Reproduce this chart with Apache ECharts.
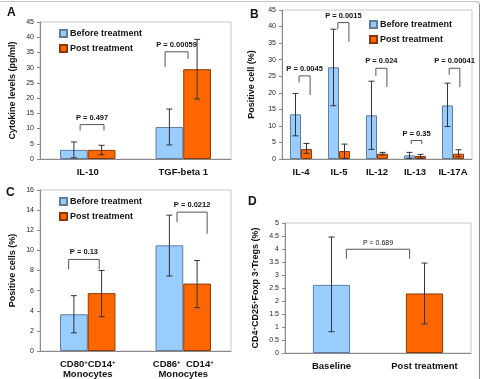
<!DOCTYPE html>
<html>
<head>
<meta charset="utf-8">
<script src="https://cdn.jsdelivr.net/npm/echarts@6/dist/echarts.min.js"></script>
<style>
html, body { margin: 0; padding: 0; background: #fff; }
#main { width: 483px; height: 379px; }
</style>
</head>
<body>
<div id="main"></div>
<script>
// ---- data ----
var catA = ['IL-10', 'TGF-beta 1'];
var beforeA = [3.0, 10.5];
var postA = [3.0, 29.5];
var errBeforeA = [[0, 0.4, 5.6], [1, 4.6, 16.4]];
var errPostA = [[0, 1.4, 4.5], [1, 19.7, 39.3]];
var pTextA = ['P = 0.497', 'P = 0.00059'];
// [category, left offset, right offset, top, left leg end, right leg end]
var bracketA = [[0, -0.08, 0.17, 11.3, 9.3, 9.3], [1, -0.19, 0.05, 35.2, 30.3, 32.9]];

var catB = ['IL-4', 'IL-5', 'IL-12', 'IL-13', 'IL-17A'];
var beforeB = [13.5, 27.7, 13.2, 1.1, 16.2];
var postB = [3.0, 2.4, 1.6, 0.9, 1.6];
var errBeforeB = [[0, 7.0, 19.8], [1, 16.1, 39.2], [2, 2.9, 23.5], [3, 0.2, 2.0], [4, 9.8, 22.9]];
var errPostB = [[0, 1.7, 4.7], [1, 0.2, 4.5], [2, 1.2, 2.0], [3, 0.3, 1.4], [4, 0.7, 2.8]];
var pTextB = ['P = 0.0045', 'P = 0.0015', 'P = 0.024', 'P = 0.35', 'P = 0.00041'];
var bracketB = [
  [0, -0.05, 0.24, 25.1, 23.1, 19.3],
  [1, -0.03, 0.26, 41.2, 39.2, 35.4],
  [2, -0.03, 0.26, 27.4, 25.1, 21.7],
  [3, -0.10, 0.18, 5.6, 4.5, 4.5],
  [4, -0.10, 0.18, 27.4, 25.4, 21.7]
];

var catC = ['CD80{s|+}CD14{s|+}\nMonocytes', 'CD86{s|+}  CD14{s|+}\nMonocytes'];
var beforeC = [3.65, 10.5];
var postC = [5.75, 6.7];
var errBeforeC = [[0, 1.8, 5.5], [1, 7.45, 13.5]];
var errPostC = [[0, 3.4, 8.0], [1, 4.3, 9.0]];
var pTextC = ['P = 0.13', 'P = 0.0212'];
var bracketC = [[0, -0.2, 0.12, 9.1, 8.1, 8.1], [1, -0.065, 0.25, 13.8, 12.8, 11.65]];

var catD = ['Baseline', 'Post treatment'];
var valD = [2.62, 2.29];
var errD = [[0, 0.82, 4.46], [1, 1.12, 3.46]];
var pTextD = ['P = 0.689'];
var bracketD = [[0, 0.16, 0.84, 3.99, 3.63, 3.63]];

// ---- styles ----
var FONT = 'Liberation Sans, Arial, sans-serif';
var BLUE = {color: '#99CCFF', borderColor: '#5F7D9C', borderWidth: 1};
var ORANGE = {color: '#FF6600', borderColor: '#8A3A08', borderWidth: 1};
var BAR_HALF = 0.145; // half a bar, as a fraction of the band

function xAxis(i, data) {
  return {
    type: 'category', gridIndex: i, data: data,
    axisLine: {lineStyle: {color: '#8a8a8a'}},
    axisTick: {length: 3, lineStyle: {color: '#8a8a8a'}},
    axisLabel: {
      interval: 0, hideOverlap: false,
      fontFamily: FONT, fontWeight: 'bold', fontSize: 9.5, color: '#111', margin: 8, lineHeight: 10,
      rich: {s: {fontFamily: FONT, fontWeight: 'bold', fontSize: 6, verticalAlign: 'top', lineHeight: 10}}
    }
  };
}

function yAxis(i, max, interval, name, gap) {
  return {
    type: 'value', gridIndex: i, min: 0, max: max, interval: interval,
    name: name, nameLocation: 'middle', nameGap: gap,
    nameTextStyle: {
      fontFamily: FONT, fontWeight: 'bold', fontSize: 9, color: '#111',
      rich: {s: {fontFamily: FONT, fontWeight: 'bold', fontSize: 6, verticalAlign: 'top'}}
    },
    axisLine: {show: true, lineStyle: {color: '#8a8a8a'}},
    axisTick: {show: true, length: 3, lineStyle: {color: '#8a8a8a'}},
    axisLabel: {fontFamily: FONT, fontSize: 7, color: '#222', margin: 6},
    splitLine: {show: false}
  };
}

function bars(i, name, data, style) {
  return {
    type: 'bar', name: name, xAxisIndex: i, yAxisIndex: i, data: data,
    barGap: '0%', barCategoryGap: '42%', itemStyle: style, silent: true
  };
}

function errorBars(i, data, side) {
  return {
    type: 'custom', xAxisIndex: i, yAxisIndex: i, data: data, silent: true, z: 4,
    encode: {x: 0, y: [1, 2]},
    renderItem: function (params, api) {
      var band = api.size([1, 0])[0];
      var lo = api.coord([api.value(0), api.value(1)]);
      var hi = api.coord([api.value(0), api.value(2)]);
      var x = lo[0] + side * BAR_HALF * band;
      var st = {stroke: '#333', lineWidth: 1};
      return {type: 'group', children: [
        {type: 'line', shape: {x1: x, y1: lo[1], x2: x, y2: hi[1]}, style: st},
        {type: 'line', shape: {x1: x - 3, y1: lo[1], x2: x + 3, y2: lo[1]}, style: st},
        {type: 'line', shape: {x1: x - 3, y1: hi[1], x2: x + 3, y2: hi[1]}, style: st}
      ]};
    }
  };
}

function brackets(i, data, texts, font) {
  return {
    type: 'custom', xAxisIndex: i, yAxisIndex: i, data: data, silent: true, z: 5,
    encode: {x: 0, y: 3},
    renderItem: function (params, api) {
      var band = api.size([1, 0])[0];
      var c = api.coord([api.value(0), api.value(3)]);
      var x1 = c[0] + api.value(1) * band;
      var x2 = c[0] + api.value(2) * band;
      var yL = api.coord([api.value(0), api.value(4)])[1];
      var yR = api.coord([api.value(0), api.value(5)])[1];
      return {type: 'group', children: [
        {type: 'polyline', shape: {points: [[x1, yL], [x1, c[1]], [x2, c[1]], [x2, yR]]},
          style: {stroke: '#555', lineWidth: 1, fill: 'none'}},
        {type: 'text', x: (x1 + x2) / 2, y: c[1] - 3,
          style: {text: texts[params.dataIndex], align: 'center', verticalAlign: 'bottom',
            font: font, fill: '#111'}}
      ]};
    }
  };
}

function legend(left, top) {
  return {
    left: left, top: top, orient: 'vertical', itemGap: 6, itemWidth: 7, itemHeight: 7,
    padding: 0, selectedMode: false, icon: 'rect',
    data: ['Before treatment', 'Post treatment'],
    textStyle: {fontFamily: FONT, fontWeight: 'bold', fontSize: 9, color: '#111', padding: [0, 0, 0, -2]}
  };
}

function letter(text, left, top) {
  return {text: text, left: left, top: top, padding: 0,
    textStyle: {fontFamily: FONT, fontWeight: 'bold', fontSize: 12, color: '#111'}};
}

var gridStyle = {show: true, borderColor: '#c8c8c8', borderWidth: 1, backgroundColor: 'transparent'};

var chart = echarts.init(document.getElementById('main'));
chart.setOption({
  animation: false,
  title: [letter('A', 7, 7), letter('B', 250, 9), letter('C', 6, 187), letter('D', 248, 196)],
  legend: [legend(59, 29), legend(369, 20), legend(59, 197)],
  grid: [
    echarts.util.extend({left: 40, top: 22, width: 191, height: 137}, gridStyle),
    echarts.util.extend({left: 282, top: 10, width: 190, height: 149}, gridStyle),
    echarts.util.extend({left: 40, top: 190, width: 191, height: 164}, gridStyle),
    echarts.util.extend({left: 285, top: 223, width: 186, height: 130}, gridStyle)
  ],
  xAxis: [xAxis(0, catA), xAxis(1, catB), xAxis(2, catC), xAxis(3, catD)],
  yAxis: [
    yAxis(0, 45, 5, 'Cytokine levels (pg/ml)', 23),
    yAxis(1, 45, 5, 'Positive cell (%)', 26),
    yAxis(2, 16, 2, 'Positive cells (%)', 23),
    yAxis(3, 5, 0.5, 'CD4{s|+}CD25{s|+}Foxp 3{s|+}Tregs (%)', 25)
  ],
  series: [
    bars(0, 'Before treatment', beforeA, BLUE),
    bars(0, 'Post treatment', postA, ORANGE),
    errorBars(0, errBeforeA, -1),
    errorBars(0, errPostA, 1),
    brackets(0, bracketA, pTextA, 'bold 7.5px ' + FONT),

    bars(1, 'Before treatment', beforeB, BLUE),
    bars(1, 'Post treatment', postB, ORANGE),
    errorBars(1, errBeforeB, -1),
    errorBars(1, errPostB, 1),
    brackets(1, bracketB, pTextB, 'bold 7.5px ' + FONT),

    bars(2, 'Before treatment', beforeC, BLUE),
    bars(2, 'Post treatment', postC, ORANGE),
    errorBars(2, errBeforeC, -1),
    errorBars(2, errPostC, 1),
    brackets(2, bracketC, pTextC, 'bold 7.5px ' + FONT),

    {
      type: 'bar', xAxisIndex: 3, yAxisIndex: 3, barWidth: '40%', silent: true,
      data: valD.map(function (v, k) {
        return {value: v, itemStyle: k === 0 ? BLUE : ORANGE};
      })
    },
    errorBars(3, errD, 0),
    brackets(3, bracketD, pTextD, '7px ' + FONT)
  ],
  graphic: [
    {type: 'line', shape: {x1: 0, y1: 1.5, x2: 477, y2: 1.5}, style: {stroke: '#c4c4c4', lineWidth: 1}},
    {type: 'line', shape: {x1: 479.5, y1: 4, x2: 479.5, y2: 379}, style: {stroke: '#8c8c8c', lineWidth: 1}},
    {type: 'arc', shape: {cx: 476.5, cy: 4.5, r: 3, startAngle: -Math.PI / 2, endAngle: 0},
      style: {stroke: '#b0b0b0', lineWidth: 1, fill: 'none'}}
  ]
});
</script>
</body>
</html>
